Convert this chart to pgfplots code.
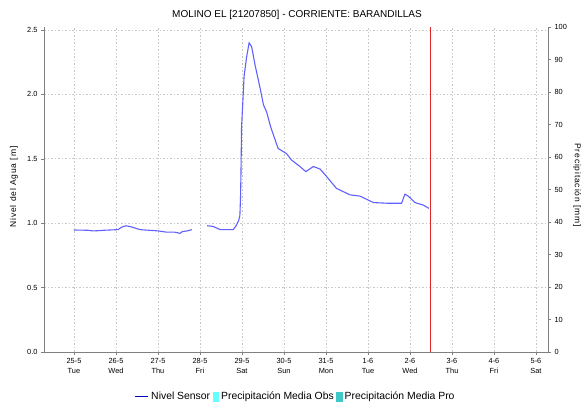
\documentclass[border=0pt]{standalone}
\usepackage{fontspec}
\setmainfont{Liberation Sans}
\newfontfamily\spaced[LetterSpace=10]{Liberation Sans}
\usepackage{pgfplots}
\pgfplotsset{compat=1.18}
\definecolor{lineblue}{RGB}{96,96,255}
\definecolor{legblue}{RGB}{0,0,190}
\definecolor{obs}{RGB}{102,255,255}
\definecolor{pro}{RGB}{64,200,200}
\definecolor{redl}{RGB}{225,40,40}
\definecolor{axgray}{RGB}{128,128,128}
\definecolor{gridgray}{RGB}{200,200,200}
\begin{document}
\begin{tikzpicture}[x=1pt,y=1pt]
\useasboundingbox (0,0) rectangle (582,403);
\begin{axis}[at={(44pt,51pt)}, anchor=south west, scale only axis, width=504pt, height=325pt,
  xmin=-0.714, xmax=11.286, ymin=0, ymax=2.523,
  axis x line*=bottom, axis y line*=left, axis line style={axgray,-},
  /pgf/number format/assume math mode=true,
  tick align=outside, major tick length=3pt, tick style={axgray},
  xtick={0,...,11},
  xticklabels={{25-5\\Tue},{26-5\\Wed},{27-5\\Thu},{28-5\\Fri},{29-5\\Sat},{30-5\\Sun},{31-5\\Mon},{1-6\\Tue},{2-6\\Wed},{3-6\\Thu},{4-6\\Fri},{5-6\\Sat}},
  xticklabel style={align=center, font=\fontsize{7.4}{10}\selectfont},
  ytick={0,0.5,...,2.5},
  yticklabel style={font=\fontsize{7.4}{9}\selectfont, /pgf/number format/.cd, fixed, fixed zerofill, precision=1},
  grid=major, major grid style={gridgray, dash pattern=on 1.5pt off 2pt, line width=0.6pt},
  legend style={at={(0.5,-0.138)}, anchor=center, draw=none, font=\fontsize{10.4}{11}\selectfont, legend columns=3,
    nodes={inner sep=2.5pt}},
  legend cell align=left,
]
\addlegendimage{legend image code/.code={\draw[legblue, line width=0.8pt] (0pt,0pt) -- (13pt,0pt);}}
\addlegendentry{Nivel Sensor\hspace{4pt}}
\addlegendimage{legend image code/.code={\fill[obs] (0pt,-4pt) rectangle (5.5pt,4.5pt);}}
\addlegendentry{Precipitación Media Obs\hspace{4pt}}
\addlegendimage{legend image code/.code={\fill[pro] (0pt,-4pt) rectangle (5.5pt,4.5pt);}}
\addlegendentry{Precipitación Media Pro}
\addplot[lineblue, line width=1.1pt, forget plot] coordinates {
(0,0.947) (0.33,0.945) (0.45,0.94) (0.6,0.942) (0.71,0.945) (1.05,0.95) (1.14,0.97) (1.24,0.98)
(1.38,0.97) (1.57,0.95) (2.0,0.94) (2.21,0.93) (2.4,0.93) (2.48,0.925) (2.52,0.92) (2.58,0.935)
(2.7,0.94) (2.81,0.95)
};
\addplot[lineblue, line width=1.1pt, forget plot] coordinates {
(3.17,0.98) (3.31,0.975) (3.48,0.95) (3.79,0.95) (3.86,0.98) (3.92,1.02) (3.95,1.06) (3.965,1.2)
(3.976,1.39) (3.99,1.75) (4.02,1.94) (4.05,2.14) (4.11,2.29) (4.17,2.40) (4.23,2.37) (4.31,2.23)
(4.43,2.05) (4.51,1.92) (4.59,1.86) (4.68,1.75) (4.86,1.58) (5.06,1.54) (5.18,1.49) (5.38,1.44)
(5.52,1.40) (5.70,1.44) (5.86,1.42) (6.02,1.36) (6.25,1.27) (6.41,1.245) (6.57,1.22) (6.81,1.21)
(7.13,1.16) (7.45,1.155) (7.80,1.155) (7.88,1.225) (7.96,1.21) (8.12,1.16) (8.32,1.14) (8.45,1.115)
};
\addplot[color=redl, line width=1pt, forget plot] coordinates {(8.5,0) (8.5,2.523)};
\end{axis}
\begin{axis}[at={(44pt,51pt)}, anchor=south west, scale only axis, width=504pt, height=325pt,
  xmin=-0.714, xmax=11.286, ymin=0, ymax=100,
  axis x line=none, axis y line*=right, axis line style={axgray,-},
  /pgf/number format/assume math mode=true,
  tick align=outside, major tick length=3pt, tick style={axgray},
  ytick={0,10,...,100},
  yticklabel style={font=\fontsize{7.4}{9}\selectfont},
]
\addplot[draw=none, forget plot] coordinates {(0,0) (1,0)};
\end{axis}
\node[font=\fontsize{10}{12}\selectfont] at (297,388) {MOLINO EL [21207850] - CORRIENTE: BARANDILLAS};
\node[rotate=90, font=\spaced\fontsize{8.5}{9}\selectfont] at (14,216) {Nivel del Agua [m]};
\node[rotate=-90, font=\spaced\fontsize{8.5}{9}\selectfont] at (577,218) {Precipitación [mm]};
\end{tikzpicture}
\end{document}
